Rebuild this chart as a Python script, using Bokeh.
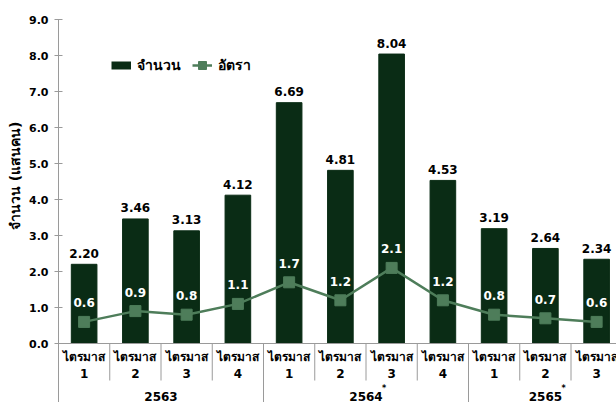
import math
from bokeh.plotting import figure
from bokeh.models import (ColumnDataSource, Range1d, FixedTicker, PrintfTickFormatter,
                          Legend, LegendItem, Span, Title)
from bokeh.core.properties import value
from bokeh.embed import file_html
from bokeh.resources import INLINE

# ---------------- data ----------------
years = ["2563", "2564", "2565"]
year_marks = ["", "*", "*"]
quarters_per_year = [4, 4, 3]
quarter_word = "ไตรมาส"
quarter_nums = ["1", "2", "3", "4", "1", "2", "3", "4", "1", "2", "3"]
counts = [2.20, 3.46, 3.13, 4.12, 6.69, 4.81, 8.04, 4.53, 3.19, 2.64, 2.34]
rates = [0.6, 0.9, 0.8, 1.1, 1.7, 1.2, 2.1, 1.2, 0.8, 0.7, 0.6]
y_ticks = [0, 1, 2, 3, 4, 5, 6, 7, 8, 9]
y_title = "จำนวน (แสนคน)"
legend_labels = ["จำนวน", "อัตรา"]

# ---------------- styles ----------------
BAR = "#0A2C15"
LINE = "#4E7D5A"
GRID = "#9a9a9a"
FONT = "DejaVu Sans"

n = len(counts)
xs = list(range(n))

src = ColumnDataSource(dict(
    x=xs, counts=counts, rates=rates,
    count_lbl=["%.2f" % c for c in counts],
    rate_lbl=["%.1f" % r for r in rates],
    qword=[quarter_word] * n, qnum=quarter_nums,
))

W, H = 616, 402
LEFT, TOP = 58, 19
col_px = 51.25
x_end = -0.5 + (W - LEFT) / col_px
px_per_unit = 36.0
y_start = -(H - 343) / px_per_unit

p = figure(width=W, height=H, x_range=Range1d(-0.5, x_end), y_range=Range1d(y_start, 9.0),
           output_backend="svg", toolbar_location=None, x_axis_location=None,
           min_border_left=LEFT, min_border_right=0, min_border_top=TOP, min_border_bottom=0)
p.outline_line_color = None
p.grid.visible = False
p.background_fill_color = "white"

ax = p.yaxis[0]
ax.ticker = FixedTicker(ticks=y_ticks)
ax.formatter = PrintfTickFormatter(format="%.1f")
ax.major_label_text_font = FONT
ax.major_label_text_font_style = "bold"
ax.major_label_text_font_size = "11px"
ax.major_label_text_color = "black"
ax.major_label_standoff = 6
ax.axis_line_color = GRID
ax.major_tick_line_color = GRID
ax.major_tick_in = 4
ax.major_tick_out = 4
ax.minor_tick_line_color = None

# zero line
p.add_layout(Span(location=0, dimension="width", line_color=GRID, line_width=1))

# separators under the axis
bounds = []
acc = 0
for q in quarters_per_year:
    acc += q
    bounds.append(acc - 0.5)
inner = [i + 0.5 for i in range(n - 1) if (i + 0.5) not in bounds]
p.segment(x0=inner, x1=inner, y0=[0] * len(inner), y1=[-37 / px_per_unit] * len(inner),
          line_color=GRID, line_width=1)
gb = bounds[:-1]
p.segment(x0=gb, x1=gb, y0=[0] * len(gb), y1=[y_start] * len(gb), line_color=GRID, line_width=1)

bars = p.vbar(x="x", top="counts", width=0.5, color=BAR, source=src)

p.text(x="x", y="counts", text="count_lbl", source=src, text_align="center", text_baseline="middle",
       y_offset=-11, text_font=value(FONT), text_font_style="bold", text_font_size="12px",
       text_color="black")

ln = p.line(x="x", y="rates", source=src, line_color=LINE, line_width=2.5)
sc = p.scatter(x="x", y="rates", source=src, marker="square", size=11, color=LINE)

p.text(x="x", y="rates", text="rate_lbl", source=src, text_align="center", text_baseline="middle",
       y_offset=-19, text_font=value(FONT), text_font_style="bold", text_font_size="12px",
       text_color="white")

# category labels
p.text(x="x", y=0, text="qword", source=src, text_align="center", text_baseline="middle",
       y_offset=13, text_font=value(FONT), text_font_style="bold", text_font_size="12px",
       text_color="black")
p.text(x="x", y=0, text="qnum", source=src, text_align="center", text_baseline="middle",
       y_offset=30, text_font=value(FONT), text_font_style="bold", text_font_size="12px",
       text_color="black")
centers = []
start = 0
for q in quarters_per_year:
    centers.append(start + (q - 1) / 2)
    start += q
p.text(x=centers, y=[0] * len(centers), text=years, text_align="center", text_baseline="middle",
       y_offset=53, text_font=value(FONT), text_font_style="bold", text_font_size="12px",
       text_color="black")
p.text(x=centers, y=[0] * len(centers), text=year_marks, text_align="left", text_baseline="middle",
       x_offset=16, y_offset=45, text_font=value(FONT), text_font_style="bold", text_font_size="8px",
       text_color="black")

# y title as a left-side title (anchored at its top end)
p.add_layout(Title(text=y_title, align="right", offset=102, standoff=8, text_font=FONT,
                   text_font_style="bold", text_font_size="14px", text_color="black"), "left")

# legend
dummy = p.line(x=[0, 0], y=[float("nan"), float("nan")], line_color=BAR, line_width=8,
               line_cap="butt")
legend = Legend(items=[LegendItem(label=legend_labels[0], renderers=[dummy]),
                       LegendItem(label=legend_labels[1], renderers=[ln, sc])],
                location=(53, 383 - 37 - 20), orientation="horizontal",
                background_fill_alpha=0, border_line_alpha=0,
                label_text_font=FONT, label_text_font_style="bold", label_text_font_size="14px",
                label_text_color="black",
                glyph_width=20, glyph_height=20, padding=0, spacing=11, label_standoff=6, margin=0)
p.add_layout(legend)

open("out.html", "w").write(file_html(p, INLINE))
